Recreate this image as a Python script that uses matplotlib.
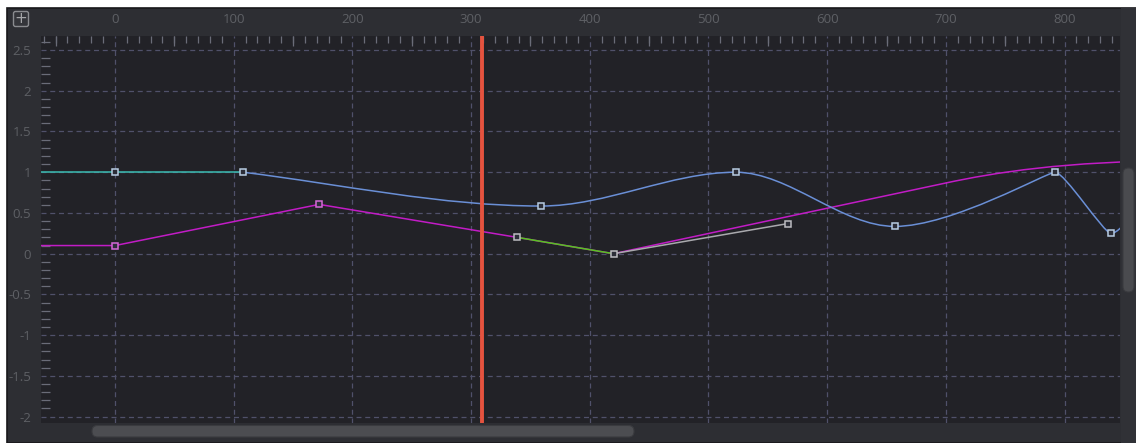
#!/usr/bin/env python3
"""Spline editor view: keyframed curves with a playhead, dark UI theme."""

import matplotlib

matplotlib.use("Agg")

import matplotlib.pyplot as plt
import numpy as np
from matplotlib.patches import FancyBboxPatch, PathPatch, Rectangle
from matplotlib.path import Path
from matplotlib.ticker import MultipleLocator

OUTPUT_FILE = "out.png"

# view range (frames / value)
X_MIN, X_MAX = -62.3, 846.9
Y_MIN, Y_MAX = -2.078, 2.672
X_TICKS = [0, 100, 200, 300, 400, 500, 600, 700, 800]
Y_TICKS = [-2, -1.5, -1, -0.5, 0, 0.5, 1, 1.5, 2, 2.5]
Y_TICK_LABELS = ["-2", "-1.5", "-1", "-0.5", "0", "0.5", "1", "1.5", "2", "2.5"]
PLAYHEAD = 309

# blue curve: flat teal lead-in, then bezier segments
TEAL_X = [-100, 0, 108]
TEAL_Y = [1.0, 1.0, 1.0]
BLUE_KEY_X = [0, 108, 359, 523, 657, 792, 839]
BLUE_KEY_Y = [1.0, 1.0, 0.585, 1.0, 0.335, 1.0, 0.25]
BLUE_CURVE_X = [108, 359, 523, 657, 792, 839, 880]
BLUE_CURVE_Y = [1.0, 0.585, 1.0, 0.335, 1.0, 0.25, 0.75]
BLUE_H1_X = [192, 414, 568, 705, 800, 850]
BLUE_H1_Y = [0.849, 0.585, 1.0, 0.335, 1.0, 0.25]
BLUE_H2_X = [275, 468, 612, 785, 833, 865]
BLUE_H2_Y = [0.585, 1.0, 0.335, 1.0, 0.25, 0.75]

# magenta curve: linear part, then eased tail
MAG_X = [-100, 0, 172, 339, 420, 700]
MAG_Y = [0.1, 0.1, 0.605, 0.2, 0.0, 0.868]
MAG_TAIL_X = [700, 900]
MAG_TAIL_Y = [0.868, 1.14]
MAG_TAIL_H1 = (740, 0.992)
MAG_TAIL_H2 = (800, 1.14)
MAG_KEY_X = [0, 172]
MAG_KEY_Y = [0.1, 0.605]

GREEN_X = [339, 420]
GREEN_Y = [0.2, 0.0]
GREY_X = [420, 567]
GREY_Y = [0.0, 0.37]
PALE_KEY_X = [339, 420, 567]
PALE_KEY_Y = [0.2, 0.0, 0.37]

W, H = 1136, 443
PANEL = "#2d2e33"
PLOT_BG = "#222227"
GRID = "#50516a"
LABEL = "#5e6065"
TICK = "#6a6c78"


def bezier_path(kx, ky, h1x, h1y, h2x, h2y):
    verts = [(kx[0], ky[0])]
    codes = [Path.MOVETO]
    for i in range(len(kx) - 1):
        verts += [(h1x[i], h1y[i]), (h2x[i], h2y[i]), (kx[i + 1], ky[i + 1])]
        codes += [Path.CURVE4] * 3
    return Path(verts, codes)


def draw_chrome(fig):
    bg = fig.add_axes([0, 0, 1, 1], zorder=-10)
    bg.set_xlim(0, W)
    bg.set_ylim(H, 0)
    bg.axis("off")
    bg.add_patch(Rectangle((7, 8), W - 7, H - 8, facecolor=PANEL, edgecolor="#18181a", lw=1.2))
    # plus button
    bg.add_patch(FancyBboxPatch((13.5, 11.5), 15, 15, boxstyle="round,pad=0,rounding_size=2",
                                facecolor="#34353a", edgecolor="#8a8b8f", lw=1))
    bg.text(21.2, 18.6, "+", color="#a4a5a8", fontsize=11, ha="center", va="center",
            family="DejaVu Sans")
    # scrollbars
    bg.add_patch(FancyBboxPatch((92, 425.5), 542, 11.5, boxstyle="round,pad=0,rounding_size=5.5",
                                facecolor="#4c4d51", edgecolor="#3a3b3f", lw=0.8))
    bg.add_patch(Rectangle((1120.5, 8), W - 1120.5, H - 8, facecolor="#303136", lw=0))
    bg.add_patch(FancyBboxPatch((1123, 168), 11, 124, boxstyle="round,pad=0,rounding_size=5.5",
                                facecolor="#4a4b4f", edgecolor="#3a3b3f", lw=0.8))


def main():
    plt.rcParams["font.family"] = ["Open Sans", "DejaVu Sans"]
    fig = plt.figure(figsize=(W / 100, H / 100), dpi=100, facecolor="white")
    draw_chrome(fig)

    ax = fig.add_axes([41 / W, 20 / H, 1079.3 / W, 387 / H])
    ax.set_facecolor(PLOT_BG)
    ax.set_xlim(X_MIN, X_MAX)
    ax.set_ylim(Y_MIN, Y_MAX)
    for s in ax.spines.values():
        s.set_visible(False)

    ax.set_xticks(X_TICKS)
    ax.set_yticks(Y_TICKS)
    ax.set_yticklabels(Y_TICK_LABELS)
    ax.xaxis.set_minor_locator(MultipleLocator(10))
    ax.yaxis.set_minor_locator(MultipleLocator(0.1))
    ax.tick_params(axis="x", which="major", top=True, bottom=False, labeltop=True,
                   labelbottom=False, length=0, pad=7, labelsize=9.5, labelcolor=LABEL)
    ax.tick_params(axis="x", which="minor", top=True, bottom=False, direction="in",
                   length=5.2, width=0.9, color=TICK)
    ax.tick_params(axis="y", which="major", length=0, pad=7, labelsize=9.5, labelcolor=LABEL)
    ax.tick_params(axis="y", which="minor", left=True, direction="in",
                   length=6.5, width=0.9, color=TICK)
    ax.grid(True, which="major", color=GRID, linestyle=(0, (4, 3)), linewidth=0.9)

    sec = ax.secondary_xaxis("top")
    sec.set_xticks(np.arange(-50, 900, 100))
    sec.tick_params(direction="in", length=7.5, width=0.9, color=TICK, labeltop=False)
    sec.spines["top"].set_visible(False)

    # curves
    ax.plot(MAG_X, MAG_Y, color="#c21cc6", lw=1.1, zorder=3)
    tail = Path([(MAG_TAIL_X[0], MAG_TAIL_Y[0]), MAG_TAIL_H1, MAG_TAIL_H2,
                 (MAG_TAIL_X[1], MAG_TAIL_Y[1])],
                [Path.MOVETO, Path.CURVE4, Path.CURVE4, Path.CURVE4])
    ax.add_patch(PathPatch(tail, facecolor="none", edgecolor="#c21cc6", lw=1.1, zorder=3))
    ax.plot(GREEN_X, GREEN_Y, color="#56c21e", lw=1.1, zorder=4)
    ax.plot(GREY_X, GREY_Y, color="#a9a9ad", lw=1.1, zorder=4)

    ax.plot(TEAL_X, TEAL_Y, color="#3bbcb2", lw=1.1, zorder=4)
    blue = bezier_path(BLUE_CURVE_X, BLUE_CURVE_Y, BLUE_H1_X, BLUE_H1_Y, BLUE_H2_X, BLUE_H2_Y)
    ax.add_patch(PathPatch(blue, facecolor="none", edgecolor="#6a8fd6", lw=1.1, zorder=4))

    # keyframes
    ax.plot(BLUE_KEY_X, BLUE_KEY_Y, ls="none", marker="s", ms=5, mew=1.1,
            mec="#b8cce2", mfc="#2c2e38", zorder=6)
    ax.plot(MAG_KEY_X, MAG_KEY_Y, ls="none", marker="s", ms=5, mew=1.1,
            mec="#d46ad6", mfc="#2c2e38", zorder=6)
    ax.plot(PALE_KEY_X, PALE_KEY_Y, ls="none", marker="s", ms=5, mew=1.1,
            mec="#bdbdc2", mfc="#2c2e38", zorder=6)

    ax.axvline(PLAYHEAD, color="#e5533f", lw=2.8, zorder=8)

    fig.savefig(OUTPUT_FILE, dpi=100, facecolor=fig.get_facecolor())
    plt.close(fig)


if __name__ == "__main__":
    main()
